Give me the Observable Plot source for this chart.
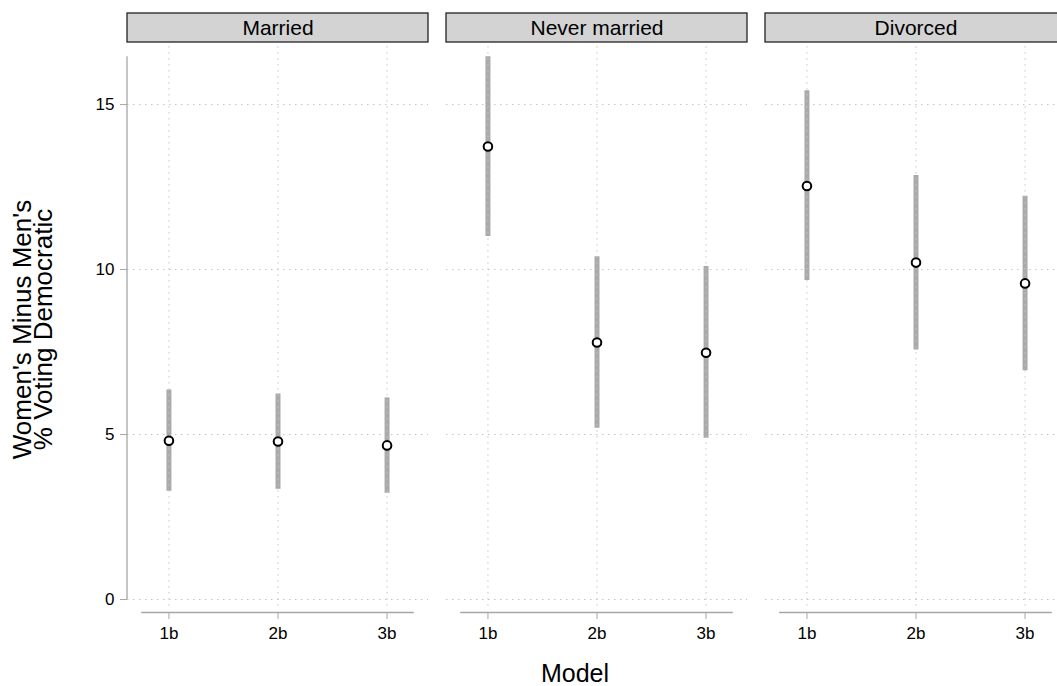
<!DOCTYPE html>
<html><head><meta charset="utf-8">
<script src="https://cdn.jsdelivr.net/npm/d3@7"></script>
<script src="https://cdn.jsdelivr.net/npm/@observablehq/plot@0.6"></script>
<style>html,body{margin:0;padding:0;overflow:hidden;background:#fff;} #chart{width:1057px;height:686px;overflow:hidden;} #chart svg{max-width:none !important;}</style>
</head><body><div id="chart"></div>
<script>
// ---- data ----
const models = ["1b", "2b", "3b"];
const statuses = ["Married", "Never married", "Divorced"];
const yTicks = [0, 5, 10, 15];

const marriedEst = [4.81, 4.79, 4.67];
const marriedLo  = [3.28, 3.34, 3.22];
const marriedHi  = [6.35, 6.23, 6.11];

const neverEst = [13.73, 7.79, 7.48];
const neverLo  = [11.00, 5.19, 4.89];
const neverHi  = [16.45, 10.39, 10.09];

const divorcedEst = [12.53, 10.21, 9.58];
const divorcedLo  = [9.67, 7.56, 6.93];
const divorcedHi  = [15.42, 12.85, 12.22];

const ests = [marriedEst, neverEst, divorcedEst];
const los = [marriedLo, neverLo, divorcedLo];
const his = [marriedHi, neverHi, divorcedHi];

const rows = [];
statuses.forEach((s, si) => models.forEach((m, mi) => rows.push({
  status: s, model: m, i: mi, est: ests[si][mi], lo: los[si][mi], hi: his[si][mi]
})));

// ---- layout ----
const W = 1080, H = 686, mt = 46, mb = 74, ml = 127, mr = 13;
const frameH = H - mt - mb;
const xDom = [-0.38, 2.38];
const yDom = [-0.394, 16.76];
const axisColor = "#a6a6a6";
const grid = {stroke: "#c4c4c4", strokeWidth: 1, strokeDasharray: "1.5,4.5"};
const font = "'Liberation Sans', Arial, Helvetica, sans-serif";

const plot = Plot.plot({
  width: W, height: H,
  marginTop: mt, marginBottom: mb, marginLeft: ml, marginRight: mr,
  style: {fontFamily: font, background: "white", overflow: "visible", maxWidth: "none"},
  fx: {domain: statuses, padding: 0.0563, axis: null, label: null},
  x: {domain: xDom, axis: null},
  y: {domain: yDom, axis: null},
  marks: [
    // facet strips
    Plot.rect(statuses, {fx: d => d, fill: "#d3d3d3", stroke: "#222", strokeWidth: 1.3,
      insetTop: -33, insetBottom: frameH + 4}),
    Plot.text(statuses, {fx: d => d, text: d => d, frameAnchor: "top", lineAnchor: "middle", dy: -18.5,
      fontSize: 21, fill: "black"}),
    // horizontal grid
    Plot.ruleY(yTicks, grid),
    // error bars
    Plot.ruleX(rows, {fx: "status", x: "i", y1: "lo", y2: "hi", stroke: "#aaaaaa", strokeWidth: 5}),
    // vertical grid
    Plot.ruleX(models.map((m, i) => i), {y1: -0.2, y2: yDom[1], ...grid}),
    // axis lines
    Plot.ruleX([statuses[0]], {fx: d => d, x: () => xDom[0], y1: 0, y2: d3.max(his.flat()),
      stroke: axisColor, strokeWidth: 1.3, dx: -0.5}),
    Plot.ruleY([yDom[0]], {x1: -0.25, x2: 2.25, stroke: axisColor, strokeWidth: 1.3}),
    Plot.axisX({anchor: "bottom", ticks: [0, 1, 2], tickFormat: i => models[i], tickSize: 7,
      tickPadding: 7, fontSize: 17, stroke: axisColor, fill: "black", label: null}),
    Plot.axisY({anchor: "left", ticks: yTicks, tickSize: 7, tickPadding: 6, fontSize: 17,
      stroke: axisColor, fill: "black", label: null}),
    // points
    Plot.dot(rows, {fx: "status", x: "i", y: "est", r: 4.3, fill: "white", stroke: "black", strokeWidth: 2}),
    // axis titles
    Plot.text(["Model"], {fx: () => statuses[1], text: d => d, frameAnchor: "bottom", lineAnchor: "middle",
      textAnchor: "middle", dy: 61.5, dx: -22, fontSize: 25, fill: "black"}),
    Plot.text(["Women's Minus Men's\n% Voting Democratic"], {fx: () => statuses[0], text: d => d,
      frameAnchor: "left", lineAnchor: "middle", textAnchor: "middle", rotate: -90, dx: -93,
      fontSize: 26, lineHeight: 0.82, fill: "black"})
  ]
});
document.getElementById("chart").appendChild(plot);
</script>
</body></html>
